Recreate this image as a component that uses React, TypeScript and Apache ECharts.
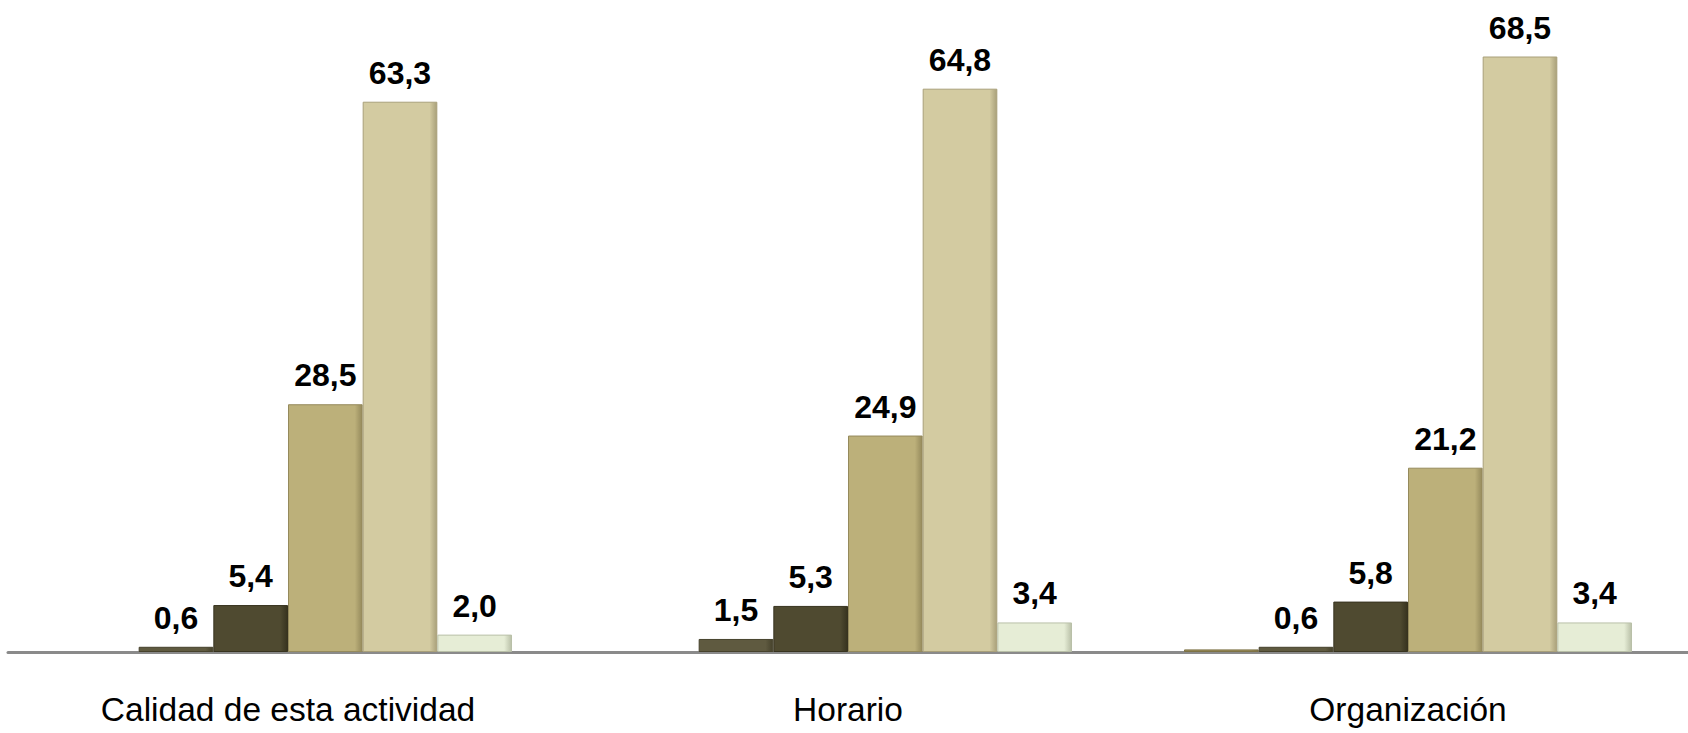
import React, { useEffect, useRef } from "react";
import * as echarts from "echarts";

const categories = ["Calidad de esta actividad", "Horario", "Organización"];
const serie1 = [null, null, 0.3];
const serie2 = [0.6, 1.5, 0.6];
const serie3 = [5.4, 5.3, 5.8];
const serie4 = [28.5, 24.9, 21.2];
const serie5 = [63.3, 64.8, 68.5];
const serie6 = [2.0, 3.4, 3.4];

const seriesData = [serie1, serie2, serie3, serie4, serie5, serie6];
const seriesNames = ["Serie 1", "Serie 2", "Serie 3", "Serie 4", "Serie 5", "Serie 6"];
const colors = ["#9a8d57", "#5f5a40", "#4f4a30", "#bcb07a", "#d3cba1", "#e6edd6"];
const borders = ["#7d7245", "#46422c", "#37331f", "#958a5c", "#a9a07a", "#b9c0a8"];

export default function App() {
  const ref = useRef<HTMLDivElement>(null);
  useEffect(() => {
    if (!ref.current) return;
    const chart = echarts.init(ref.current, undefined, { renderer: "svg" });
    chart.setOption({
      animation: false,
      grid: { left: 8, right: 0, top: 0, bottom: 81 },
      xAxis: {
        type: "category",
        data: categories,
        axisLine: { lineStyle: { color: "#8a8a8a", width: 3 } },
        axisTick: { show: false },
        axisLabel: {
          margin: 40,
          fontSize: 33.5,
          fontFamily: "Liberation Sans",
          color: "#000",
        },
      },
      yAxis: { type: "value", min: 0, max: 75, show: false },
      series: seriesData.map((d, i) => ({
        name: seriesNames[i],
        type: "bar",
        data: d,
        barGap: "0%",
        barCategoryGap: "20%",
        itemStyle: {
          color: {
            type: "linear",
            x: 0,
            y: 0,
            x2: 1,
            y2: 0,
            colorStops: [
              { offset: 0, color: colors[i] },
              { offset: 0.9, color: colors[i] },
              { offset: 1, color: borders[i] },
            ],
          },
          borderColor: borders[i],
          borderWidth: 1,
        },
        label: {
          show: i !== 0,
          position: "top",
          distance: 13,
          fontSize: 32,
          fontWeight: "bold",
          fontFamily: "Liberation Sans",
          color: "#000",
          formatter: (p: any) => (p.value == null ? "" : Number(p.value).toFixed(1).replace(".", ",")),
        },
      })),
    });
    return () => chart.dispose();
  }, []);
  return (
    <div
      ref={ref}
      style={{ position: "absolute", left: 0, top: 0, width: 1688, height: 733 }}
    />
  );
}
